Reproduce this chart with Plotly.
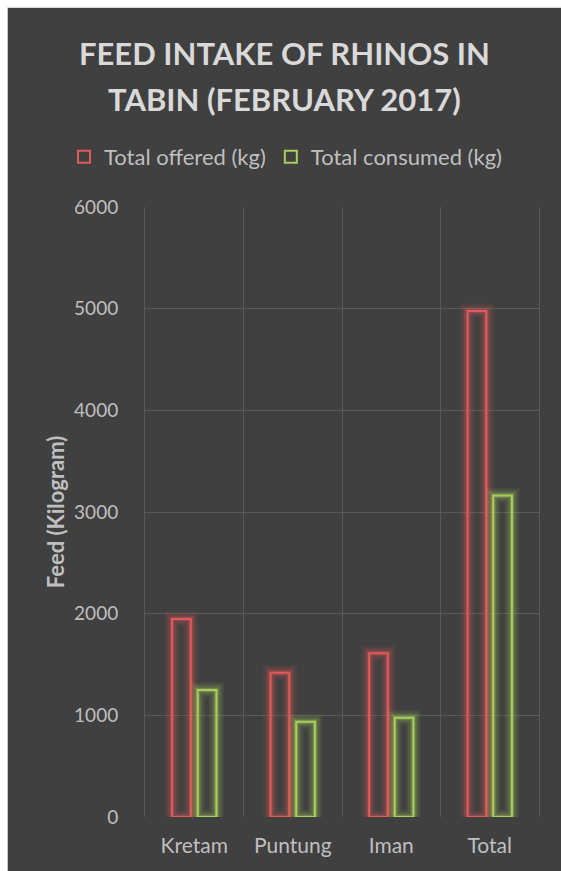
import plotly.graph_objects as go

# Feed data per rhino (kg)
rhinos = ["Kretam", "Puntung", "Iman", "Total"]
offered_kg = [1947, 1419, 1610, 4976]
consumed_kg = [1249, 937, 976, 3162]
y_ticks = [0, 1000, 2000, 3000, 4000, 5000, 6000]
title_lines = ["FEED INTAKE OF RHINOS IN", "TABIN (FEBRUARY 2017)"]

RED = "#e05a5a"
GREEN = "#a8cf5c"
BG = "#404040"
TEXT = "#d9d9d9"
TICK = "#bfbfbf"
GRID = "#595959"
FONT = "Lato, Open Sans, sans-serif"

W, H = 561, 871
ML, MR, MT, MB = 145, 22, 207, 54

BAR_W = 0.19
OFFSETS = {"offered": -0.225, "consumed": 0.035}

fig = go.Figure()


def add_series(name, values, color, offset):
    # soft glow: wide translucent outlines underneath the crisp outline
    for lw, alpha in [(15, 0.08), (11, 0.11), (7, 0.17), (4, 0.26)]:
        fig.add_trace(go.Bar(
            x=rhinos, y=values, width=BAR_W, offset=offset,
            marker=dict(color="rgba(0,0,0,0)",
                        line=dict(color=color, width=lw)),
            opacity=alpha, showlegend=False, hoverinfo="skip",
        ))
    fig.add_trace(go.Bar(
        x=rhinos, y=values, name=name, width=BAR_W, offset=offset,
        marker=dict(color="rgba(0,0,0,0)", line=dict(color=color, width=2)),
    ))


add_series("Total offered (kg)", offered_kg, RED, OFFSETS["offered"])
add_series("Total consumed (kg)", consumed_kg, GREEN, OFFSETS["consumed"])

# pixel -> paper coordinate helpers
px_to_x = lambda px: (px - ML) / (W - ML - MR)
px_to_y = lambda py: 1 - (py - MT) / (H - MT - MB)

# dark chart area inside a thin white frame on the left and top
fig.add_shape(type="rect", xref="paper", yref="paper",
              x0=px_to_x(8), x1=px_to_x(W + 2), y0=px_to_y(H + 2), y1=px_to_y(8),
              fillcolor=BG, line=dict(width=0), layer="below")
fig.add_shape(type="line", xref="paper", yref="paper",
              x0=px_to_x(7.5), x1=px_to_x(7.5), y0=px_to_y(H + 2), y1=px_to_y(7.5),
              line=dict(color="#c8c8c8", width=1), layer="below")
fig.add_shape(type="line", xref="paper", yref="paper",
              x0=px_to_x(7.5), x1=px_to_x(W + 2), y0=px_to_y(7.5), y1=px_to_y(7.5),
              line=dict(color="#d8d8d8", width=1), layer="below")

# two-line chart title
for line, cy in zip(title_lines, [53, 99]):
    fig.add_annotation(
        text=f"<b>{line}</b>", xref="paper", yref="paper",
        x=px_to_x(W / 2 + 4), y=px_to_y(cy), xanchor="center", yanchor="middle",
        showarrow=False, font=dict(size=31, color=TEXT, family=FONT),
    )

fig.update_layout(
    width=W, height=H,
    margin=dict(l=ML, r=MR, t=MT, b=MB, autoexpand=False),
    paper_bgcolor="white",
    plot_bgcolor="rgba(0,0,0,0)",
    barmode="overlay",
    font=dict(family=FONT, color=TICK),
    legend=dict(
        orientation="h", xref="paper", x=px_to_x(64), xanchor="left",
        yref="paper", y=px_to_y(157), yanchor="middle",
        font=dict(size=22, color=TICK), bgcolor="rgba(0,0,0,0)",
    ),
    xaxis=dict(
        type="category", tickson="boundaries", range=[-0.5, 3.5],
        showgrid=True, gridcolor=GRID, gridwidth=1,
        ticks="", showline=False, zeroline=False,
        ticklabelstandoff=14,
        tickfont=dict(size=21, color=TICK),
    ),
    yaxis=dict(
        range=[0, 6000], tickvals=y_ticks,
        showgrid=True, gridcolor=GRID, gridwidth=1,
        zeroline=False, ticks="",
        showline=True, linecolor=GRID, linewidth=1, mirror=True,
        ticklabelstandoff=22,
        tickfont=dict(size=19, color=TICK),
        title=dict(text="<b>Feed (Kilogram)</b>", standoff=3,
                   font=dict(size=22, color=TICK)),
    ),
)

fig.write_html("out.html")
